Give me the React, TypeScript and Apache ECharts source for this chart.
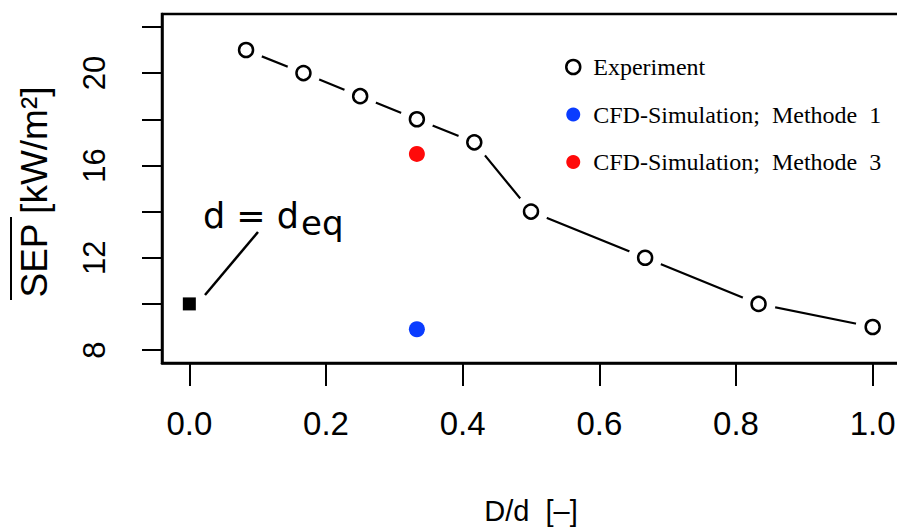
import React, { useEffect, useRef } from "react";
import * as echarts from "echarts";

// ---- data ----
const expX = [0.083, 0.167, 0.25, 0.333, 0.417, 0.5, 0.667, 0.833, 1.0];
const expY = [21, 20, 19, 18, 17, 14, 12, 10, 9];
const cfd1 = [[0.333, 8.9]];
const cfd3 = [[0.333, 16.5]];
const deqPoint = [[0, 10]];

const xTicks = [0, 0.2, 0.4, 0.6, 0.8, 1.0];
const yTicks = [8, 10, 12, 14, 16, 18, 20, 22];
const yTickLabels = [8, 12, 16, 20];

const seriesNames = [
  "Experiment",
  "CFD-Simulation;  Methode  1",
  "CFD-Simulation;  Methode  3",
];

export default function App() {
  const ref = useRef<HTMLDivElement>(null);

  useEffect(() => {
    document.body.style.margin = "0";
    if (!ref.current) return;
    const chart = echarts.init(ref.current, undefined, { renderer: "svg" });
    const sans = "Liberation Sans, Arial, Helvetica, sans-serif";
    const expData = expX.map((x, i) => [x, expY[i]]);

    chart.setOption({
      animation: false,
      backgroundColor: "#fff",
      grid: {
        left: 162,
        top: 14,
        width: 738,
        height: 349,
        outerBoundsMode: "none",
        containLabel: false,
        show: true,
        borderColor: "#000",
        borderWidth: 2.5,
        backgroundColor: "transparent",
      },
      xAxis: {
        type: "value",
        min: -0.04,
        max: 1.04,
        axisLine: { show: true, onZero: false, lineStyle: { color: "#000", width: 2.5 } },
        axisTick: {
          show: true,
          customValues: xTicks,
          length: 23,
          lineStyle: { color: "#000", width: 2 },
        },
        axisLabel: {
          customValues: xTicks,
          formatter: (v: number) => v.toFixed(1),
          fontSize: 33,
          fontFamily: sans,
          color: "#000",
          margin: 44,
        },
        splitLine: { show: false },
        name: "D/d  [\u2013]",
        nameLocation: "middle",
        nameGap: 133,
        nameTextStyle: { fontSize: 29, fontFamily: sans, color: "#000" },
      },
      yAxis: {
        type: "value",
        min: 7.44,
        max: 22.56,
        axisLine: { show: true, onZero: false, lineStyle: { color: "#000", width: 2.5 } },
        axisTick: {
          show: true,
          customValues: yTicks,
          length: 20,
          lineStyle: { color: "#000", width: 2 },
        },
        axisLabel: {
          customValues: yTickLabels,
          rotate: 90,
          fontSize: 31,
          fontFamily: sans,
          color: "#000",
          margin: 52,
        },
        splitLine: { show: false },
      },
      legend: {
        orient: "vertical",
        left: 560,
        top: 50,
        itemWidth: 30,
        itemHeight: 14,
        itemGap: 23.5,
        selectedMode: false,
        textStyle: {
          fontSize: 24,
          lineHeight: 24,
          fontFamily: "Liberation Serif, Times New Roman, serif",
          color: "#000",
        },
        data: [
          {
            name: seriesNames[0],
            icon: "circle",
            itemStyle: { color: "#fff", borderColor: "#000", borderWidth: 2.5, opacity: 1 },
          },
          { name: seriesNames[1], icon: "circle", itemStyle: { color: "#0a3cff", opacity: 1 } },
          { name: seriesNames[2], icon: "circle", itemStyle: { color: "#ff0a0a", opacity: 1 } },
        ],
      },
      series: [
        {
          name: seriesNames[0],
          type: "line",
          data: expData,
          symbol: "circle",
          symbolSize: 34,
          itemStyle: { color: "#fff", borderWidth: 0, opacity: 1 },
          lineStyle: { color: "#000", width: 2.2 },
          emphasis: { disabled: true },
          z: 2,
        },
        {
          name: seriesNames[0],
          type: "scatter",
          data: expData,
          symbol: "circle",
          symbolSize: 14,
          itemStyle: { color: "#fff", borderColor: "#000", borderWidth: 2.5, opacity: 1 },
          emphasis: { disabled: true },
          z: 3,
        },
        {
          name: seriesNames[1],
          type: "scatter",
          data: cfd1,
          symbol: "circle",
          symbolSize: 16,
          itemStyle: { color: "#0a3cff", opacity: 1 },
          emphasis: { disabled: true },
          z: 4,
        },
        {
          name: seriesNames[2],
          type: "scatter",
          data: cfd3,
          symbol: "circle",
          symbolSize: 16,
          itemStyle: { color: "#ff0a0a", opacity: 1 },
          emphasis: { disabled: true },
          z: 4,
        },
        {
          name: "d_eq",
          type: "scatter",
          data: deqPoint,
          symbol: "rect",
          symbolSize: 13,
          itemStyle: { color: "#000", opacity: 1 },
          emphasis: { disabled: true },
          z: 4,
        },
      ],
      graphic: [
        {
          type: "text",
          x: 34,
          y: 192,
          rotation: Math.PI / 2,
          style: {
            text: "SEP [kW/m\u00b2]",
            fontSize: 37,
            fontFamily: sans,
            fill: "#000",
            align: "center",
            verticalAlign: "middle",
          },
        },
        {
          type: "line",
          shape: { x1: 11, y1: 300, x2: 11, y2: 217 },
          style: { stroke: "#000", lineWidth: 2 },
        },
        {
          type: "text",
          x: 203,
          y: 216,
          style: {
            text: "d = d",
            fontSize: 35,
            fontFamily: "DejaVu Sans, sans-serif",
            fill: "#000",
            align: "left",
            verticalAlign: "middle",
          },
        },
        {
          type: "text",
          x: 301,
          y: 223,
          style: {
            text: "eq",
            fontSize: 34,
            fontFamily: "DejaVu Sans, sans-serif",
            fill: "#000",
            align: "left",
            verticalAlign: "middle",
          },
        },
        {
          type: "line",
          shape: { x1: 258, y1: 232, x2: 205, y2: 295 },
          style: { stroke: "#000", lineWidth: 2.5 },
        },
      ],
    });

    return () => chart.dispose();
  }, []);

  return <div ref={ref} style={{ width: 897, height: 528 }} />;
}
